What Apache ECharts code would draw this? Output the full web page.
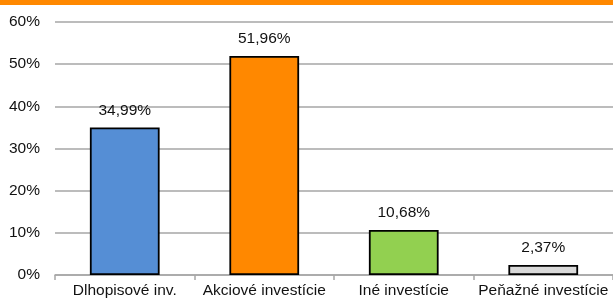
<!DOCTYPE html>
<html><head><meta charset="utf-8">
<script src="https://cdn.jsdelivr.net/npm/echarts@6/dist/echarts.min.js"></script>
<style>html,body{margin:0;padding:0;background:#fff}#c{width:613px;height:299px}</style>
</head><body><div id="c"></div>
<script>
const categories = ['Dlhopisové inv.', 'Akciové investície', 'Iné investície', 'Peňažné investície'];
const values = [34.99, 51.96, 10.68, 2.37];
const barColors = ['#558ED5', '#FF8800', '#92D050', '#D9D9D9'];
const yTicks = [0, 10, 20, 30, 40, 50, 60];

const chart = echarts.init(document.getElementById('c'));
chart.setOption({
  animation: false,
  textStyle: { fontFamily: 'Liberation Sans, Arial, sans-serif' },
  graphic: [{ type: 'rect', left: 0, top: 0, shape: { width: 613, height: 5 }, style: { fill: '#FF8800' } }],
  grid: { left: 55, right: -2, top: 22, bottom: 24 },
  xAxis: {
    type: 'category', data: categories,
    axisLine: { lineStyle: { color: '#A6A6A6', width: 1.5 } },
    axisTick: { show: true, length: 5, lineStyle: { color: '#A6A6A6', width: 1.5 } },
    axisLabel: { color: '#111', fontSize: 15.5, margin: 8, interval: 0 }
  },
  yAxis: {
    type: 'value', min: yTicks[0], max: yTicks[yTicks.length - 1], interval: 10,
    axisLine: { show: false }, axisTick: { show: false },
    axisLabel: { color: '#111', fontSize: 15.5, margin: 15, formatter: v => v + '%' },
    splitLine: { lineStyle: { color: '#A6A6A6', width: 1.5 } }
  },
  series: [{
    type: 'bar', barWidth: '50%',
    data: values.map((v, i) => ({ value: v, itemStyle: { color: barColors[i] } })),
    itemStyle: { borderColor: '#000', borderWidth: 1.8 },
    label: { show: true, position: 'top', distance: 9, color: '#111', fontSize: 15.5,
      formatter: p => p.value.toFixed(2).replace('.', ',') + '%' }
  }]
});
</script></body></html>
